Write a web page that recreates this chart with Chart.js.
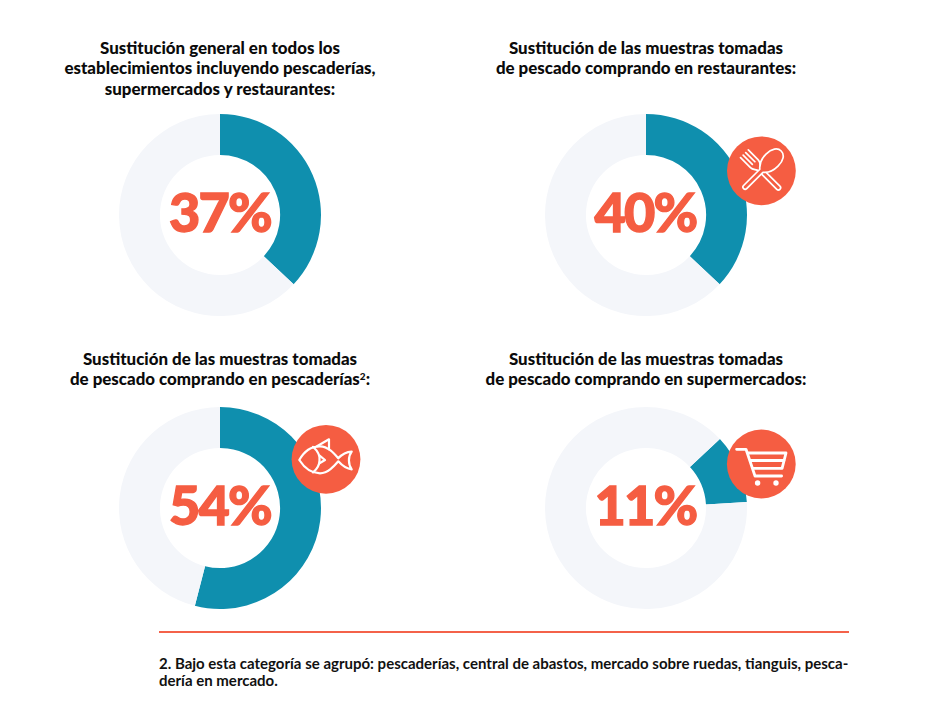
<!DOCTYPE html>
<html lang="es"><head><meta charset="utf-8">
<script src="https://cdn.jsdelivr.net/npm/chart.js@4"></script>
<style>
html,body{margin:0;padding:0;background:#fff;width:935px;height:721px;overflow:hidden;font-family:Lato,sans-serif}
.c{position:absolute}
.t{position:absolute;text-align:center;font-weight:900;font-size:16.9px;line-height:20.3px;color:#0b0b0b;white-space:nowrap;transform:translateX(-50%)}
.t sup{font-size:10px;line-height:0;vertical-align:baseline;position:relative;top:-5px}
.p{position:absolute;font-weight:900;font-size:54px;line-height:58px;letter-spacing:-1.8px;color:#f55d42;-webkit-text-stroke:1.3px #f55d42;transform:translate(-50%,-50%);white-space:nowrap}
.r{position:absolute;left:159px;top:631px;width:690px;height:2px;background:#f4624a}
.f{position:absolute;left:159px;top:655px;font-weight:700;font-size:15px;line-height:17px;color:#111;white-space:nowrap}
svg{position:absolute;overflow:visible}
</style></head><body>
<div id="root"></div>
<div class="r"></div>
<div class="f">2. Bajo esta categoría se agrupó: pescaderías, central de abastos, mercado sobre ruedas, tianguis, pesca-<br>dería en mercado.</div>
<svg width="935" height="721" style="left:0;top:0" fill="none" stroke="#fff" stroke-width="1.7" stroke-linecap="round" stroke-linejoin="round">
 <g transform="translate(761.4 170.8)">
  <circle r="34.4" fill="#f55d42" stroke="none"/>
  <g transform="rotate(-45)"><path d="M-5.5 -24L-5.5 -10C-5.5 -6 -2.2 -5 -2.2 -2L-2.2 24A2.2 2.2 0 0 0 2.2 24L2.2 -2C2.2 -5 5.5 -6 5.5 -10L5.5 -24M-1.8 -24L-1.8 -11M1.8 -24L1.8 -11"/></g>
  <g transform="rotate(45)"><path fill="#f55d42" d="M-2.2 0L-2.2 23A2.2 2.2 0 0 0 2.2 23L2.2 0C6 -3 8.5 -8 8.5 -15C8.5 -23 5 -28 0 -28C-5 -28 -8.5 -23 -8.5 -15C-8.5 -8 -6 -3 -2.2 0Z"/></g>
 </g>
 <g transform="translate(326 459.3)" stroke-width="2.2">
  <circle r="34.4" fill="#f55d42" stroke="none"/>
  <path d="M-26.7 0.7C-22 -8 -15 -13 -6 -13C2 -13 8 -6 12.3 -1C15 -4 20 -7.5 25.7 -7.7C22 -3 22 5 25.7 10C20 9.5 15 5 12.3 2C8 7 2 14 -6 14C-15 14 -22 8 -26.7 0.7Z"/>
  <path d="M-9 -13L3 -20L3 -10"/>
  <path d="M-13 -12.5C-8 -8 -6 -3 -6.5 1C-6.5 6 -9 10 -13 13"/>
  <path d="M-6.7 -4L-1 0.7L-6.5 4"/>
 </g>
 <g transform="translate(761.3 464)" stroke-width="2.8">
  <circle r="34.4" fill="#f55d42" stroke="none"/>
  <path d="M-24.7 -14.7L-15.3 -14.7L-6.3 12L20.3 12"/>
  <path d="M-13 -11L24.7 -11L20.8 4.3L-8 4.3M-11 -3.5L23 -3.5"/>
  <circle cx="-3.7" cy="19" r="2.7" fill="#fff" stroke="none"/>
  <circle cx="14.7" cy="19" r="2.7" fill="#fff" stroke="none"/>
 </g>
</svg>
<script>
const categories = [
  ["Sustitución general en todos los","establecimientos incluyendo pescaderías,","supermercados y restaurantes:"],
  ["Sustitución de las muestras tomadas","de pescado comprando en restaurantes:"],
  ["Sustitución de las muestras tomadas","de pescado comprando en pescaderías<sup>2</sup>:"],
  ["Sustitución de las muestras tomadas","de pescado comprando en supermercados:"]
];
const percentLabels = ["37%","40%","54%","11%"];
const arcValues = [37,37,54,11];
const arcStartAngles = [0,0,0,47];
const centers = [[220,214.5],[645.5,214.5],[220,507.5],[645.5,507.5]];
const titleTops = [38,38,349,349];
const titleX = [220,646,220,646];
const SIZE = 204, OUTER = 101;
const root = document.getElementById('root');
categories.forEach((lines,i)=>{
  const [cx,cy] = centers[i];
  const cv = document.createElement('canvas');
  cv.className='c'; cv.width=SIZE; cv.height=SIZE;
  cv.style.cssText=`left:${cx-SIZE/2}px;top:${cy-SIZE/2}px;width:${SIZE}px;height:${SIZE}px`;
  root.appendChild(cv);
  new Chart(cv,{type:'doughnut',
    data:{labels:['Sustitución','Resto'],datasets:[{data:[arcValues[i],100-arcValues[i]],
      backgroundColor:['#0f8fae','#f4f6fa'],borderWidth:0,hoverOffset:0}]},
    options:{responsive:false,animation:false,cutout:'59.5%',rotation:arcStartAngles[i],
      layout:{padding:SIZE/2-OUTER},
      plugins:{legend:{display:false},tooltip:{enabled:false}},events:[]}});
  const t=document.createElement('div');t.className='t';t.innerHTML=lines.join('<br>');
  t.style.left=titleX[i]+'px';t.style.top=titleTops[i]+'px';root.appendChild(t);
  const p=document.createElement('div');p.className='p';p.textContent=percentLabels[i];
  p.style.left=cx+'px';p.style.top=(cy-3)+'px';root.appendChild(p);
});
</script>
</body></html>
